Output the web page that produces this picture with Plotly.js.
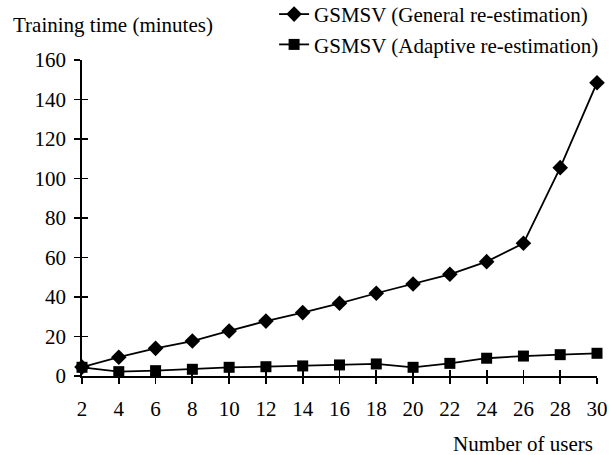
<!DOCTYPE html>
<html><head><meta charset="utf-8">
<script src="https://cdn.plot.ly/plotly-3.0.1.min.js"></script>
<style>body{margin:0;background:#fff}#c{width:616px;height:455px}</style>
</head><body><div id="c"></div>
<script>
const users = [2,4,6,8,10,12,14,16,18,20,22,24,26,28,30];
const generalTime = [4.5,9.5,14,17.7,22.8,27.8,32.1,36.8,41.9,46.6,51.5,57.9,67.2,105.5,148.5];
const adaptiveTime = [4.4,2.2,2.7,3.4,4.4,4.7,5.1,5.6,6.1,4.4,6.4,9.0,10.1,10.8,11.5];
const seriesNames = ['GSMSV (General re-estimation)','GSMSV (Adaptive re-estimation)'];
const yTicks = [0,20,40,60,80,100,120,140,160];

const F = '"Liberation Serif", "Times New Roman", Times, serif';
const FS = 21;
const traces = [
  {x: users, y: generalTime, name: seriesNames[0], mode:'lines+markers', legendgroup:'a',
   line:{color:'#000', width:1.8}, marker:{symbol:'diamond', size:12, color:'#000'}, cliponaxis:false},
  {x: users, y: adaptiveTime, name: seriesNames[1], mode:'lines+markers', legendgroup:'b',
   line:{color:'#000', width:1.8}, marker:{symbol:'square', size:11, color:'#000'}, cliponaxis:false},
  {x: [], y: [], xaxis:'x2', yaxis:'y2', showlegend:false, hoverinfo:'skip'}
];
const axBase = {showgrid:false, zeroline:false, showline:true, linecolor:'#000', linewidth:1.8,
  tickcolor:'#000', tickwidth:1.8, tickfont:{family:F, size:FS, color:'#000'}, automargin:false};
const layout = {
  width:616, height:455, paper_bgcolor:'#fff', plot_bgcolor:'#fff',
  margin:{l:82, r:19, t:60, b:79, autoexpand:false},
  font:{family:F, size:FS, color:'#000'},
  showlegend:true,
  legend:{x:0.373, y:1.209, xanchor:'left', yanchor:'top', bgcolor:'rgba(0,0,0,0)',
    font:{family:F, size:FS, color:'#000'}, traceorder:'grouped', tracegroupgap:0, itemwidth:30},
  xaxis:Object.assign({}, axBase, {range:[2,30], tickmode:'array', tickvals:users, ticks:'outside', ticklen:6, ticklabelstandoff:7, tickangle:0}),
  yaxis:Object.assign({}, axBase, {range:[0,160], tickmode:'array', tickvals:yTicks, ticks:'outside', ticklen:6, ticklabelstandoff:4}),
  xaxis2:{overlaying:'x', range:[2,30], tickmode:'array', tickvals:users, ticks:'inside', ticklen:6,
    tickcolor:'#000', tickwidth:1.8, showticklabels:false, showgrid:false, zeroline:false, showline:false, side:'bottom'},
  yaxis2:{overlaying:'y', range:[0,160], tickmode:'array', tickvals:yTicks, ticks:'inside', ticklen:6,
    tickcolor:'#000', tickwidth:1.8, showticklabels:false, showgrid:false, zeroline:false, showline:false, side:'left'},
  annotations:[
    {text:'Training time (minutes)', xref:'paper', yref:'paper', x:-0.138, y:1.111, xanchor:'left', yanchor:'middle',
     showarrow:false, font:{family:F, size:FS, color:'#000'}},
    {text:'Number of users', xref:'paper', yref:'paper', x:0.996, y:-0.215, xanchor:'right', yanchor:'middle',
     showarrow:false, font:{family:F, size:FS, color:'#000'}}
  ]
};
Plotly.newPlot('c', traces, layout, {displayModeBar:false, staticPlot:true});
</script></body></html>
